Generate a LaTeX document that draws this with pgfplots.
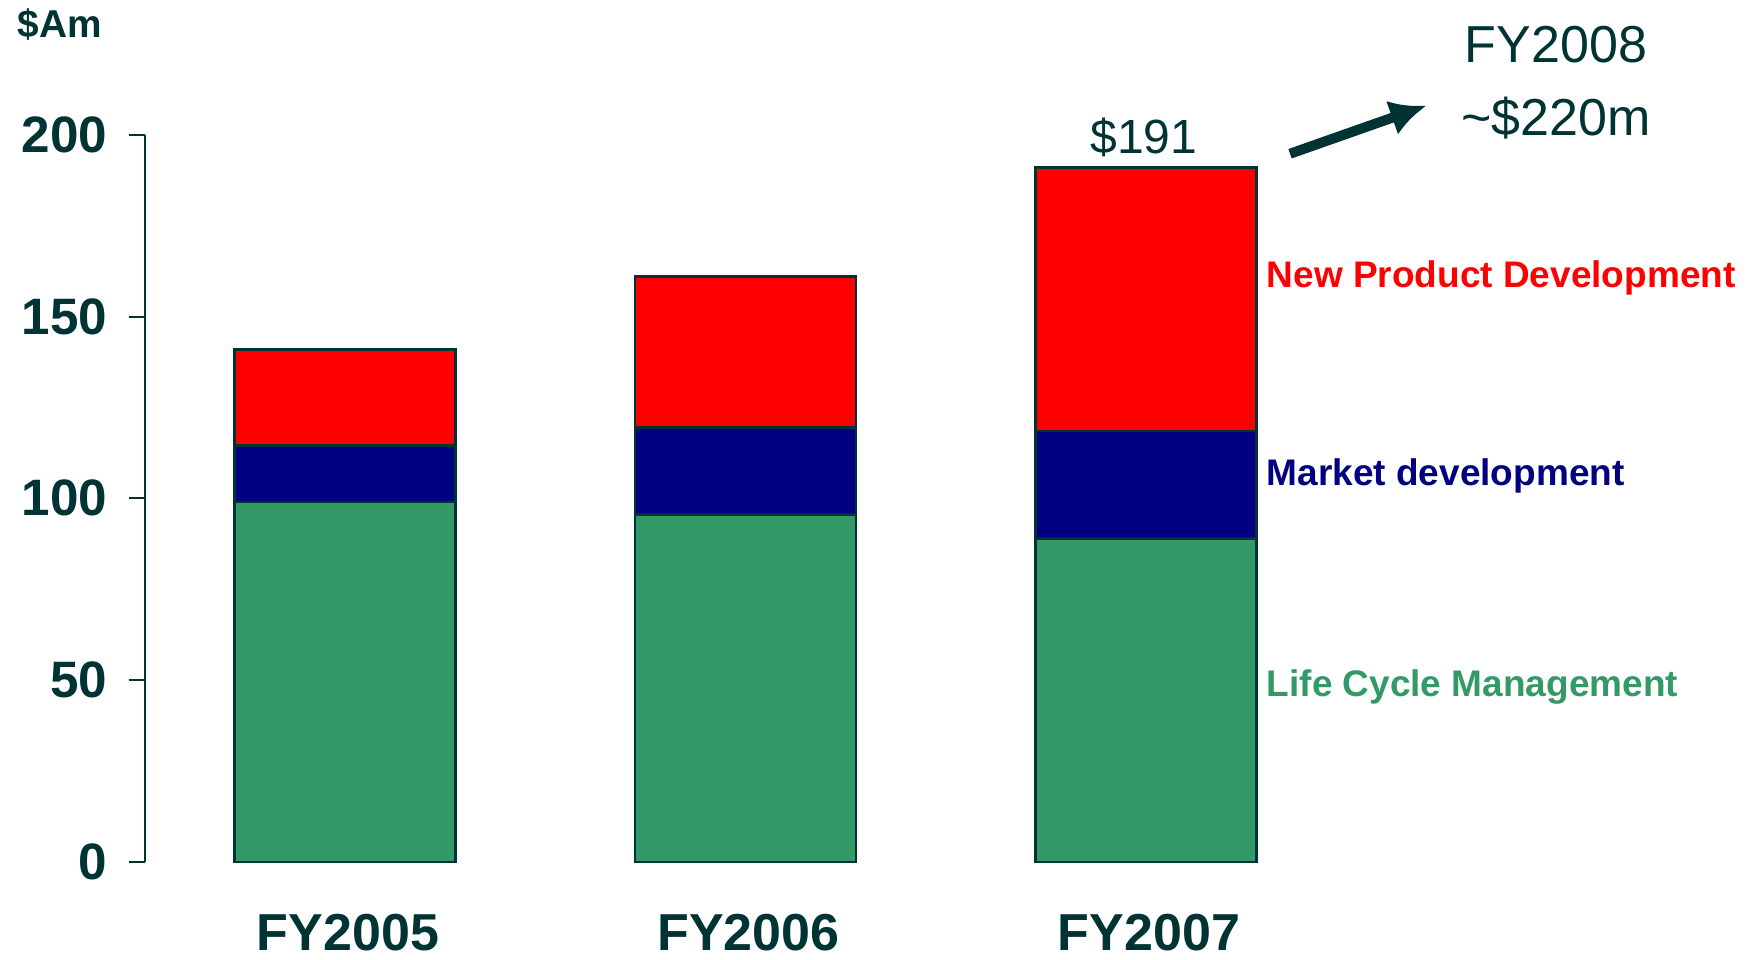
\documentclass[border=0pt]{standalone}
\usepackage{pgfplots}
\pgfplotsset{compat=1.18}
\usetikzlibrary{arrows.meta}
\usepackage{fontspec}
\setmainfont{Liberation Sans}
\definecolor{dk}{RGB}{0,51,51}
\definecolor{npd}{RGB}{255,0,0}
\definecolor{mkt}{RGB}{0,0,128}
\definecolor{lcm}{RGB}{51,153,102}
\begin{document}
\begin{tikzpicture}
\begin{axis}[
  scale only axis,
  width=300.375pt, height=181.75pt,
  xmin=-0.5, xmax=2.5, ymin=0, ymax=200,
  ybar stacked, bar width=55.25pt,
  axis lines*=left,
  x axis line style={draw=none},
  y axis line style={draw=dk, line width=0.5pt},
  xtick={0,1,2}, xticklabels={FY2005,FY2006,FY2007},
  xtick style={draw=none},
  ytick={0,50,100,150,200},
  ytick style={draw=dk, line width=0.5pt},
  tick align=outside, major tick length=4pt,
  /pgf/number format/assume math mode=true,
  yticklabel style={font=\bfseries\fontsize{12.8}{14}\selectfont, text=dk, anchor=east, inner sep=0pt, xshift=-5.1pt},
  xticklabel style={font=\bfseries\fontsize{13}{14}\selectfont, text=dk, anchor=center, inner sep=0pt, yshift=-13.75pt, xshift=0.8pt},
  clip=false,
]
\addplot[fill=lcm, draw=dk, line width=0.6pt] coordinates {(0,99) (1,95.5) (2,89)};
\addplot[fill=mkt, draw=dk, line width=0.6pt] coordinates {(0,15.5) (1,24) (2,29.5)};
\addplot[fill=npd, draw=dk, line width=0.6pt] coordinates {(0,26.5) (1,41.5) (2,72.5)};
\path (axis cs:-0.861,-26.96) rectangle (axis cs:3.521,237.1);
\node[anchor=west, inner sep=0pt, text=dk, font=\bfseries\fontsize{9.7}{11}\selectfont] at (axis cs:-0.819,230.3) {\$Am};
\node[text=dk, inner sep=0pt, font=\fontsize{12}{13}\selectfont] at (axis cs:1.995,199.4) {\$191};
\node[text=dk, inner sep=0pt, font=\fontsize{13}{15}\selectfont] at (axis cs:3.024,224.8) {FY2008};
\node[text=dk, inner sep=0pt, font=\fontsize{13}{15}\selectfont] at (axis cs:3.024,204.6) {\textasciitilde\$220m};
\draw[dk, line width=2.5pt, -{Latex[length=9pt,width=9pt]}] (axis cs:2.36,194.8) -- (axis cs:2.70,208);
\node[anchor=west, inner sep=0pt, text=npd, font=\bfseries\fontsize{9.25}{10}\selectfont] at (axis cs:2.30,160.5) {New Product Development};
\node[anchor=west, inner sep=0pt, text=mkt, font=\bfseries\fontsize{9.25}{10}\selectfont] at (axis cs:2.30,106.3) {Market development};
\node[anchor=west, inner sep=0pt, text=lcm, font=\bfseries\fontsize{9.25}{10}\selectfont] at (axis cs:2.30,48.2) {Life Cycle Management};
\end{axis}
\end{tikzpicture}
\end{document}
